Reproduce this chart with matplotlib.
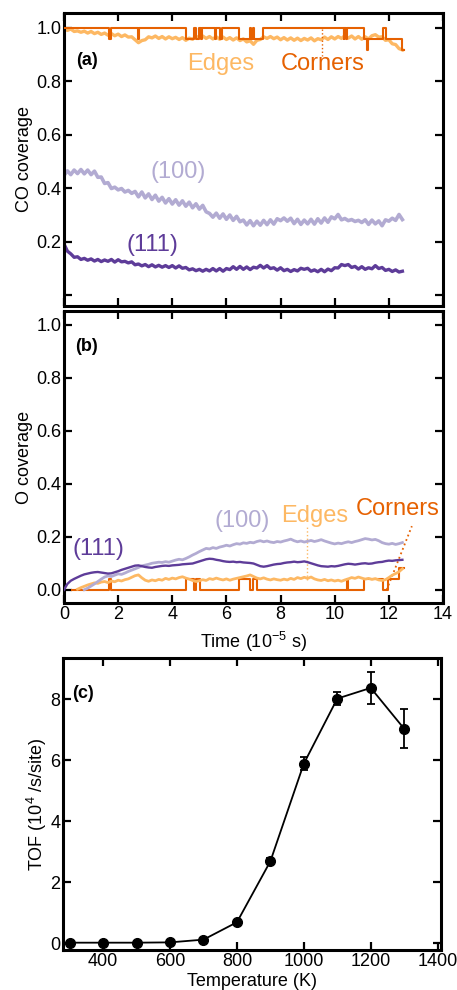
import numpy as np
import matplotlib
matplotlib.use("Agg")
import matplotlib.pyplot as plt

plt.rcParams['font.family'] = ['Liberation Sans', 'DejaVu Sans']
plt.rcParams['mathtext.fontset'] = 'custom'
plt.rcParams['mathtext.rm'] = 'Liberation Sans'
plt.rcParams['mathtext.it'] = 'Liberation Sans:italic'

# ---------------- data ----------------
time = np.round(np.arange(101) * 0.125, 3)  # 10^-5 s

co_edges = [0.996, 0.990, 0.995, 0.986, 0.988, 0.983, 0.987, 0.980, 0.986, 0.978,
            0.983, 0.975, 0.980, 0.972, 0.978, 0.970, 0.976, 0.967, 0.973, 0.965,
            0.966, 0.955, 0.944, 0.952, 0.955, 0.966, 0.962, 0.969, 0.960, 0.967,
            0.958, 0.966, 0.959, 0.964, 0.956, 0.963, 0.953, 0.961, 0.957, 0.968,
            0.962, 0.969, 0.960, 0.967, 0.958, 0.966, 0.957, 0.965, 0.956, 0.963,
            0.954, 0.962, 0.952, 0.958, 0.947, 0.951, 0.938, 0.953, 0.956, 0.966,
            0.960, 0.967, 0.959, 0.965, 0.955, 0.963, 0.954, 0.962, 0.953, 0.961,
            0.952, 0.960, 0.954, 0.962, 0.951, 0.959, 0.955, 0.965, 0.956, 0.966,
            0.958, 0.967, 0.960, 0.970, 0.961, 0.969, 0.958, 0.967, 0.957, 0.966,
            0.958, 0.970, 0.974, 0.965, 0.966, 0.953, 0.955, 0.940, 0.937, 0.922,
            0.917]

co_100 = [0.448, 0.465, 0.451, 0.468, 0.455, 0.470, 0.454, 0.468, 0.451, 0.464,
          0.441, 0.442, 0.418, 0.421, 0.399, 0.404, 0.394, 0.399, 0.386, 0.392,
          0.381, 0.388, 0.368, 0.386, 0.364, 0.379, 0.358, 0.374, 0.352, 0.366,
          0.345, 0.361, 0.341, 0.357, 0.337, 0.353, 0.333, 0.348, 0.327, 0.342,
          0.322, 0.336, 0.312, 0.306, 0.292, 0.307, 0.288, 0.304, 0.284, 0.300,
          0.280, 0.295, 0.275, 0.281, 0.263, 0.279, 0.260, 0.277, 0.262, 0.280,
          0.264, 0.282, 0.266, 0.286, 0.279, 0.289, 0.277, 0.288, 0.268, 0.284,
          0.265, 0.281, 0.267, 0.284, 0.266, 0.286, 0.270, 0.289, 0.273, 0.293,
          0.286, 0.302, 0.282, 0.287, 0.279, 0.283, 0.276, 0.280, 0.272, 0.282,
          0.265, 0.281, 0.267, 0.278, 0.260, 0.282, 0.277, 0.288, 0.280, 0.302,
          0.283]

co_111 = [0.192, 0.165, 0.155, 0.142, 0.144, 0.134, 0.138, 0.131, 0.136, 0.128,
          0.134, 0.126, 0.132, 0.127, 0.134, 0.124, 0.133, 0.125, 0.127, 0.121,
          0.125, 0.114, 0.117, 0.110, 0.115, 0.107, 0.114, 0.106, 0.112, 0.105,
          0.111, 0.104, 0.111, 0.102, 0.110, 0.101, 0.104, 0.095, 0.099, 0.092,
          0.097, 0.090, 0.097, 0.091, 0.100, 0.091, 0.100, 0.090, 0.100, 0.096,
          0.107, 0.097, 0.108, 0.097, 0.106, 0.096, 0.105, 0.102, 0.112, 0.102,
          0.111, 0.100, 0.103, 0.094, 0.103, 0.092, 0.097, 0.089, 0.096, 0.091,
          0.101, 0.097, 0.101, 0.090, 0.095, 0.088, 0.097, 0.088, 0.098, 0.092,
          0.103, 0.102, 0.115, 0.111, 0.115, 0.104, 0.108, 0.098, 0.107, 0.097,
          0.103, 0.099, 0.111, 0.100, 0.104, 0.093, 0.097, 0.089, 0.095, 0.087,
          0.090]

co_corner_t = [0.0, 1.68, 1.72, 2.74, 2.78, 4.50, 4.81, 4.88, 4.99, 5.07, 5.11,
               5.58, 5.62, 5.78, 5.82, 6.48, 6.86, 6.90, 6.98, 7.03, 7.35,
               10.33, 10.36, 10.40, 10.44, 11.09, 11.20, 11.23, 11.77, 11.90,
               12.50, 12.55]
co_corner_v = [1.0, 0.958, 1.0, 0.958, 1.0, 0.958, 1.0, 0.958, 1.0, 0.958, 1.0,
               0.958, 1.0, 0.958, 1.0, 0.958, 1.0, 0.958, 1.0, 0.958, 1.0,
               0.958, 1.0, 0.958, 1.0, 0.958, 0.917, 0.958, 1.0, 0.958,
               0.917, 0.917]

o_111 = [0.000, 0.022, 0.034, 0.041, 0.047, 0.053, 0.058, 0.061, 0.064, 0.066,
         0.067, 0.065, 0.063, 0.061, 0.062, 0.066, 0.070, 0.075, 0.079, 0.083,
         0.087, 0.091, 0.092, 0.089, 0.086, 0.084, 0.083, 0.086, 0.088, 0.090,
         0.091, 0.090, 0.092, 0.093, 0.094, 0.096, 0.097, 0.098, 0.099, 0.103,
         0.107, 0.111, 0.115, 0.117, 0.116, 0.113, 0.111, 0.108, 0.106, 0.105,
         0.106, 0.104, 0.105, 0.103, 0.102, 0.101, 0.099, 0.094, 0.089, 0.087,
         0.089, 0.092, 0.095, 0.097, 0.098, 0.101, 0.103, 0.104, 0.106, 0.104,
         0.105, 0.107, 0.104, 0.100, 0.096, 0.092, 0.089, 0.088, 0.087, 0.089,
         0.088, 0.090, 0.093, 0.096, 0.098, 0.097, 0.095, 0.097, 0.099, 0.100,
         0.098, 0.099, 0.102, 0.104, 0.105, 0.108, 0.110, 0.109, 0.111, 0.112,
         0.113]

o_100 = [np.nan] * 6 + [
         0.000, 0.006, 0.014, 0.022,
         0.031, 0.040, 0.048, 0.052, 0.050, 0.055, 0.060, 0.058, 0.063, 0.069,
         0.074, 0.079, 0.084, 0.090, 0.093, 0.096, 0.100, 0.102, 0.104, 0.103,
         0.106, 0.104, 0.108, 0.112, 0.115, 0.113, 0.118, 0.124, 0.131, 0.137,
         0.144, 0.150, 0.156, 0.154, 0.159, 0.156, 0.161, 0.164, 0.168, 0.165,
         0.170, 0.174, 0.172, 0.177, 0.175, 0.179, 0.177, 0.182, 0.185, 0.181,
         0.184, 0.180, 0.178, 0.182, 0.180, 0.184, 0.187, 0.191, 0.185, 0.181,
         0.184, 0.180, 0.183, 0.186, 0.182, 0.185, 0.189, 0.184, 0.180, 0.176,
         0.173, 0.176, 0.174, 0.178, 0.181, 0.178, 0.182, 0.185, 0.189, 0.193,
         0.191, 0.188, 0.190, 0.185, 0.178, 0.174, 0.172, 0.175, 0.171, 0.174,
         0.178]

o_edges = [np.nan] * 4 + [
           0.002, 0.008, 0.013, 0.018, 0.022, 0.026,
           0.024, 0.029, 0.031, 0.027, 0.033, 0.030, 0.036, 0.033, 0.038, 0.041,
           0.047, 0.053, 0.056, 0.045, 0.036, 0.032, 0.037, 0.034, 0.039, 0.036,
           0.043, 0.039, 0.044, 0.041, 0.046, 0.049, 0.044, 0.040, 0.035, 0.031,
           0.034, 0.038, 0.035, 0.042, 0.039, 0.044, 0.040, 0.037, 0.041, 0.036,
           0.040, 0.043, 0.046, 0.049, 0.052, 0.056, 0.050, 0.044, 0.041, 0.045,
           0.040, 0.037, 0.041, 0.038, 0.036, 0.040, 0.037, 0.043, 0.039, 0.046,
           0.042, 0.047, 0.043, 0.048, 0.041, 0.037, 0.035, 0.039, 0.034, 0.037,
           0.033, 0.036, 0.032, 0.037, 0.041, 0.046, 0.043, 0.048, 0.044, 0.040,
           0.043, 0.039, 0.042, 0.037, 0.035, 0.038, 0.046, 0.055, 0.061, 0.068,
           0.079]

o_corner_t = [0.30, 1.68, 1.72, 4.50, 4.81, 4.88, 5.02, 6.48, 6.88, 6.98, 7.13,
              10.45, 10.49, 11.09, 11.77, 11.96, 12.39, 12.55]
o_corner_v = [0.0, 0.042, 0.0, 0.042, 0.0, 0.042, 0.0, 0.042, 0.0, 0.042, 0.0,
              0.042, 0.0, 0.042, 0.0, 0.042, 0.083, 0.083]

temperature = [300, 400, 500, 600, 700, 800, 900, 1000, 1100, 1200, 1300]
tof = [0.02, 0.02, 0.02, 0.03, 0.12, 0.69, 2.69, 5.89, 8.02, 8.37, 7.03]
tof_err = [0.02, 0.02, 0.02, 0.02, 0.03, 0.05, 0.10, 0.22, 0.21, 0.53, 0.64]

# ---------------- style ----------------
C_CORN = '#e66101'
C_EDGE = '#fdb863'
C_100 = '#b2abd2'
C_111 = '#5e3c99'

TICK_FS = 13
LAB_FS = 13
ANN_FS = 17

fig = plt.figure(figsize=(4.57, 9.90), dpi=100)
W, H = 457.0, 990.0


def axes_px(l, t, r, b):
    return fig.add_axes([l / W, 1 - b / H, (r - l) / W, (b - t) / H])


def style(ax):
    for s in ax.spines.values():
        s.set_linewidth(2.2)
    ax.tick_params(direction='in', top=True, right=True, length=6, width=1.6,
                   labelsize=TICK_FS, pad=2)


ax1 = axes_px(64, 13, 443, 306)
ax2 = axes_px(64, 311.5, 443, 603)
ax3 = axes_px(63, 658, 441, 950)

# ---- (a) CO coverage ----
ax1.plot(time, co_edges, color=C_EDGE, lw=2.4, zorder=2)
ax1.plot(co_corner_t, co_corner_v, color=C_CORN, lw=1.5, drawstyle='steps-post', zorder=3)
ax1.plot(time, co_100, color=C_100, lw=2.6, zorder=2)
ax1.plot(time, co_111, color=C_111, lw=2.4, zorder=2)
ax1.plot([9.54, 9.54], [0.995, 0.895], color=C_CORN, lw=1.0, ls=':')
ax1.set_xlim(0, 14)
ax1.set_ylim(-0.04, 1.055)
ax1.set_xticks(np.arange(0, 15, 2))
ax1.set_xticklabels([])
ax1.set_yticks([0.0, 0.2, 0.4, 0.6, 0.8, 1.0])
ax1.set_yticklabels(['', '0.2', '0.4', '0.6', '0.8', '1.0'])
style(ax1)
ax1.set_ylabel('CO coverage', fontsize=LAB_FS)
ax1.yaxis.set_label_coords(-0.082, 0.5)
ax1.text(0.85, 0.878, '(a)', fontsize=13, fontweight='bold', ha='center', va='center')
ax1.text(5.80, 0.866, 'Edges', color=C_EDGE, fontsize=ANN_FS, ha='center', va='center')
ax1.text(9.55, 0.866, 'Corners', color=C_CORN, fontsize=ANN_FS, ha='center', va='center')
ax1.text(4.23, 0.462, '(100)', color=C_100, fontsize=ANN_FS, ha='center', va='center')
ax1.text(3.25, 0.189, '(111)', color=C_111, fontsize=ANN_FS, ha='center', va='center')

# ---- (b) O coverage ----
ax2.plot(o_corner_t, o_corner_v, color=C_CORN, lw=1.5, drawstyle='steps-post', zorder=2)
ax2.plot(time, o_edges, color=C_EDGE, lw=2.0, zorder=3)
ax2.plot(time, o_100, color=C_100, lw=2.0, zorder=3)
ax2.plot(time, o_111, color=C_111, lw=1.7, zorder=4)
ax2.plot([8.98, 8.98], [0.035, 0.245], color=C_EDGE, lw=1.0, ls=':')
ax2.plot([11.92, 12.85], [0.0, 0.24], color=C_CORN, lw=1.3, ls=':')
ax2.set_xlim(0, 14)
ax2.set_ylim(-0.05, 1.05)
ax2.set_xticks(np.arange(0, 15, 2))
ax2.set_yticks([0.0, 0.2, 0.4, 0.6, 0.8, 1.0])
ax2.set_yticklabels(['0.0', '0.2', '0.4', '0.6', '0.8', '1.0'])
style(ax2)
ax2.set_ylabel('O coverage', fontsize=LAB_FS)
ax2.yaxis.set_label_coords(-0.082, 0.5)
ax2.set_xlabel('Time (10$^{-5}$ s)', fontsize=LAB_FS)
ax2.xaxis.set_label_coords(0.5, -0.092)
ax2.text(0.84, 0.918, '(b)', fontsize=13, fontweight='bold', ha='center', va='center')
ax2.text(1.28, 0.152, '(111)', color=C_111, fontsize=ANN_FS, ha='center', va='center')
ax2.text(6.59, 0.261, '(100)', color=C_100, fontsize=ANN_FS, ha='center', va='center')
ax2.text(9.27, 0.280, 'Edges', color=C_EDGE, fontsize=ANN_FS, ha='center', va='center')
ax2.text(12.34, 0.306, 'Corners', color=C_CORN, fontsize=ANN_FS, ha='center', va='center',
         clip_on=False)

# ---- (c) TOF ----
ax3.errorbar(temperature, tof, yerr=tof_err, color='black', lw=1.3, marker='o',
             markersize=7, capsize=3, elinewidth=1.3, capthick=1.3)
ax3.set_xlim(280, 1410)
ax3.set_ylim(-0.22, 9.35)
ax3.set_xticks([400, 600, 800, 1000, 1200, 1400])
ax3.set_yticks([0, 2, 4, 6, 8])
style(ax3)
ax3.set_ylabel('TOF (10$^{4}$ /s/site)', fontsize=LAB_FS)
ax3.yaxis.set_label_coords(-0.036, 0.5)
ax3.set_xlabel('Temperature (K)', fontsize=LAB_FS)
ax3.xaxis.set_label_coords(0.5, -0.078)
ax3.text(340, 8.2, '(c)', fontsize=13, fontweight='bold', ha='center', va='center')

fig.savefig('out.png', dpi=100)
